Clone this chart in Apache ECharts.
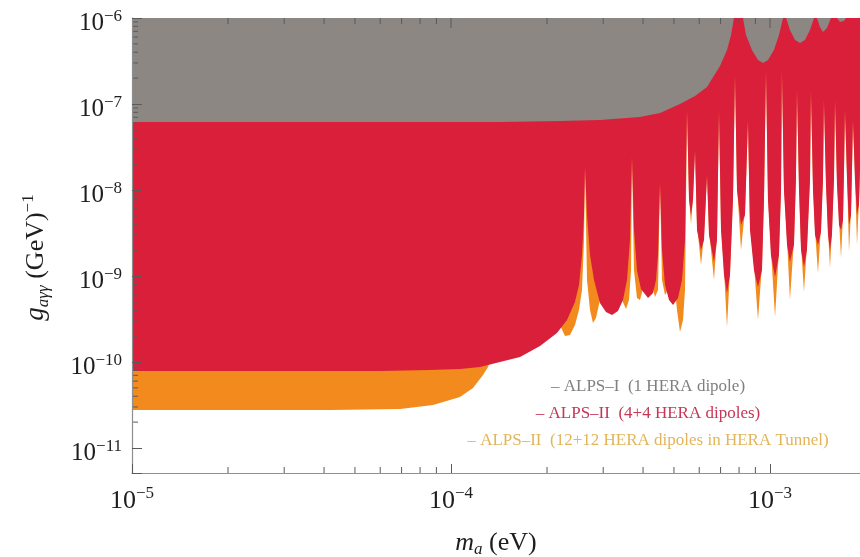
<!DOCTYPE html>
<html>
<head>
<meta charset="utf-8">
<script src="https://cdn.jsdelivr.net/npm/echarts@6/dist/echarts.min.js"></script>
<style>
html,body{margin:0;padding:0;background:#fff;}
#chart{width:860px;height:557px;}
</style>
</head>
<body>
<div id="chart"></div>
<script>
// ---------- axis ranges and ticks ----------
const X_MIN = 1e-5, X_MAX = 1.915e-3;
const Y_MIN = 5.12e-12, Y_MAX = 1e-6;
const minorMantissas = [2, 3, 4, 5, 6, 7, 8, 9];
const xMinorDecades = [1e-5, 1e-4];
const yMinorDecades = [1e-11, 1e-10, 1e-9, 1e-8, 1e-7];
const xTopMajorTicks = [1e-4, 1e-3];

// ---------- legend labels ----------
const legendLabels = [
  '\u2013 ALPS\u2013I  (1 HERA dipole)',
  '\u2013 ALPS\u2013II  (4+4 HERA dipoles)',
  '\u2013 ALPS\u2013II  (12+12 HERA dipoles in HERA Tunnel)'
];

// ---------- sensitivity limits [m_a (eV), g (1/GeV)] ----------
const alps1Limit = [
  [1.00e-5,6.18e-8],[1.424e-4,6.18e-8],[2.196e-4,6.34e-8],[2.931e-4,6.52e-8],[3.913e-4,7.06e-8],
  [4.521e-4,7.85e-8],[5.223e-4,1.00e-7],[5.821e-4,1.24e-7],[6.347e-4,1.58e-7],[6.97e-4,2.77e-7],
  [7.333e-4,4.25e-7],[7.55e-4,6.34e-7],[7.71e-4,1e-6],[8.23e-4,1e-6],[8.41e-4,6.34e-7],
  [8.78e-4,4.25e-7],[9.17e-4,3.25e-7],[9.51e-4,3.00e-7],[9.86e-4,3.25e-7],[1.029e-3,4.25e-7],
  [1.067e-3,6.34e-7],[1.099e-3,1e-6],[1.123e-3,1e-6],[1.155e-3,7.25e-7],[1.198e-3,5.55e-7],
  [1.242e-3,5.12e-7],[1.287e-3,5.55e-7],[1.335e-3,7.25e-7],[1.374e-3,1e-6],[1.404e-3,1e-6],
  [1.434e-3,7.86e-7],[1.466e-3,6.88e-7],[1.509e-3,7.65e-7],[1.553e-3,1e-6],[1.622e-3,1e-6],
  [1.657e-3,8.98e-7],[1.681e-3,8.75e-7],[1.706e-3,9.23e-7],[1.730e-3,1e-6],[1.915e-3,1e-6]
];

const alps2Limit = [
  [1.00e-5,7.86e-11],[5.99e-5,7.86e-11],[8.59e-5,8.07e-11],[1.067e-4,8.29e-11],[1.233e-4,8.75e-11],
  [1.424e-4,1.00e-10],[1.646e-4,1.14e-10],[1.901e-4,1.53e-10],[2.149e-4,2.17e-10],[2.310e-4,3.08e-10],
  [2.447e-4,4.99e-10],[2.519e-4,7.86e-10],[2.574e-4,1.75e-9],[2.612e-4,5.12e-9],[2.631e-4,1.85e-8],
  [2.669e-4,5.12e-9],[2.728e-4,1.75e-9],[2.807e-4,8.98e-10],[2.931e-4,4.85e-10],[3.061e-4,3.81e-10],
  [3.197e-4,3.52e-10],[3.338e-4,3.92e-10],[3.461e-4,5.26e-10],[3.562e-4,8.98e-10],[3.640e-4,2.62e-9],
  [3.693e-4,2.42e-8],[3.747e-4,3.43e-9],[3.829e-4,1.17e-9],[3.941e-4,7.06e-10],[4.146e-4,5.55e-10],
  [4.298e-4,6.34e-10],[4.392e-4,8.98e-10],[4.456e-4,1.75e-9],[4.521e-4,1.21e-8],[4.586e-4,2.01e-9],
  [4.687e-4,7.86e-10],[4.825e-4,5.26e-10],[4.966e-4,4.60e-10],[5.148e-4,5.55e-10],[5.299e-4,8.98e-10],
  [5.415e-4,2.62e-9],[5.494e-4,8.52e-8],[5.574e-4,7.65e-9],[5.655e-4,5.12e-9],[5.737e-4,7.65e-9],
  [5.821e-4,2.92e-8],[5.905e-4,3.43e-9],[6.078e-4,2.01e-9],[6.211e-4,2.62e-9],[6.347e-4,1.49e-8],
  [6.439e-4,3.00e-9],[6.676e-4,1.46e-9],[6.822e-4,2.62e-9],[6.921e-4,8.52e-8],[7.022e-4,3.43e-9],
  [7.176e-4,1.03e-9],[7.333e-4,6.34e-10],[7.493e-4,1.03e-9],[7.656e-4,7.65e-9],[7.768e-4,2.17e-7],
  [7.881e-4,1.00e-8],[8.112e-4,3.92e-9],[8.350e-4,5.12e-9],[8.531e-4,6.52e-8],[8.656e-4,3.43e-9],
  [8.910e-4,1.17e-9],[9.171e-4,7.45e-10],[9.438e-4,1.17e-9],[9.576e-4,7.65e-9],[9.716e-4,2.49e-7],
  [9.856e-4,7.65e-9],[1.007e-3,1.75e-9],[1.037e-3,9.74e-10],[1.067e-3,1.75e-9],[1.083e-3,1.00e-8],
  [1.090e-3,2.49e-7],[1.106e-3,1.00e-8],[1.131e-3,2.29e-9],[1.155e-3,1.46e-9],[1.189e-3,2.29e-9],
  [1.206e-3,1.31e-8],[1.215e-3,1.46e-7],[1.233e-3,1.00e-8],[1.251e-3,2.01e-9],[1.278e-3,1.27e-9],
  [1.306e-3,2.01e-9],[1.335e-3,1.31e-8],[1.344e-3,1.46e-7],[1.364e-3,1.00e-8],[1.384e-3,3.00e-9],
  [1.414e-3,2.29e-9],[1.445e-3,3.25e-9],[1.466e-3,1.31e-8],[1.476e-3,1.11e-7],[1.498e-3,1.14e-8],
  [1.520e-3,3.00e-9],[1.542e-3,2.01e-9],[1.564e-3,3.00e-9],[1.587e-3,1.31e-8],[1.599e-3,1.11e-7],
  [1.622e-3,1.14e-8],[1.646e-3,3.92e-9],[1.670e-3,3.43e-9],[1.694e-3,4.48e-9],[1.706e-3,1.71e-8],
  [1.718e-3,8.52e-8],[1.744e-3,1.31e-8],[1.769e-3,3.92e-9],[1.795e-3,5.12e-9],[1.807e-3,1.71e-8],
  [1.820e-3,6.52e-8],[1.847e-3,1.31e-8],[1.874e-3,5.12e-9],[1.901e-3,6.69e-9],[1.915e-3,1.71e-8]
];

const alps2TunnelLimit = [
  [1.00e-5,2.77e-11],[4.18e-5,2.77e-11],[6.92e-5,2.84e-11],[8.78e-5,3.16e-11],[1.067e-4,3.92e-11],
  [1.172e-4,4.99e-11],[1.260e-4,7.06e-11],[1.306e-4,8.75e-11],[1.354e-4,1.21e-10],[1.424e-4,2.06e-10],
  [1.531e-4,5.26e-10],[1.646e-4,1.53e-9],[1.768e-4,3.43e-9],[1.901e-4,4.48e-9],[2.014e-4,2.01e-9],
  [2.118e-4,5.26e-10],[2.196e-4,2.69e-10],[2.277e-4,2.01e-10],[2.360e-4,2.06e-10],[2.447e-4,2.69e-10],
  [2.519e-4,4.02e-10],[2.574e-4,6.87e-10],[2.612e-4,2.62e-9],[2.631e-4,1.85e-8],[2.669e-4,8.98e-10],
  [2.728e-4,4.02e-10],[2.787e-4,2.84e-10],[2.848e-4,3.25e-10],[2.931e-4,5.26e-10],[3.061e-4,1.17e-9],
  [3.197e-4,1.53e-9],[3.338e-4,8.98e-10],[3.436e-4,5.26e-10],[3.537e-4,4.13e-10],[3.614e-4,5.26e-10],
  [3.667e-4,1.17e-9],[3.693e-4,2.42e-8],[3.747e-4,1.17e-9],[3.829e-4,5.55e-10],[3.913e-4,5.26e-10],
  [4.027e-4,7.86e-10],[4.146e-4,1.03e-9],[4.267e-4,7.86e-10],[4.360e-4,5.70e-10],[4.456e-4,6.87e-10],
  [4.521e-4,1.21e-8],[4.586e-4,8.98e-10],[4.687e-4,6.01e-10],[4.790e-4,6.87e-10],[4.966e-4,1.17e-9],
  [5.111e-4,4.02e-10],[5.223e-4,2.23e-10],[5.338e-4,3.08e-10],[5.415e-4,6.87e-10],[5.494e-4,8.52e-8],
  [5.574e-4,8.75e-9],[5.655e-4,3.92e-9],[5.737e-4,8.75e-9],[5.821e-4,2.92e-8],[5.905e-4,3.92e-9],
  [6.078e-4,1.34e-9],[6.211e-4,3.00e-9],[6.347e-4,1.49e-8],[6.439e-4,3.43e-9],[6.676e-4,8.98e-10],
  [6.822e-4,3.00e-9],[6.921e-4,8.52e-8],[7.022e-4,3.92e-9],[7.176e-4,1.17e-9],[7.333e-4,2.55e-10],
  [7.493e-4,1.17e-9],[7.656e-4,8.75e-9],[7.768e-4,2.17e-7],[7.881e-4,1.14e-8],[8.112e-4,2.01e-9],
  [8.350e-4,5.85e-9],[8.531e-4,6.52e-8],[8.656e-4,3.92e-9],[8.910e-4,1.34e-9],[9.171e-4,3.08e-10],
  [9.438e-4,1.34e-9],[9.576e-4,8.75e-9],[9.716e-4,2.49e-7],[9.856e-4,8.75e-9],[1.007e-3,2.01e-9],
  [1.037e-3,3.34e-10],[1.067e-3,2.01e-9],[1.083e-3,1.14e-8],[1.090e-3,2.49e-7],[1.106e-3,1.14e-8],
  [1.131e-3,2.62e-9],[1.155e-3,5.26e-10],[1.189e-3,2.62e-9],[1.206e-3,1.49e-8],[1.215e-3,1.46e-7],
  [1.233e-3,1.14e-8],[1.251e-3,2.29e-9],[1.278e-3,6.52e-10],[1.306e-3,2.29e-9],[1.335e-3,1.49e-8],
  [1.344e-3,1.46e-7],[1.364e-3,1.14e-8],[1.384e-3,3.43e-9],[1.414e-3,1.08e-9],[1.445e-3,3.71e-9],
  [1.466e-3,1.49e-8],[1.476e-3,1.11e-7],[1.498e-3,1.31e-8],[1.520e-3,3.43e-9],[1.542e-3,1.24e-9],
  [1.564e-3,3.43e-9],[1.587e-3,1.49e-8],[1.599e-3,1.11e-7],[1.622e-3,1.31e-8],[1.646e-3,4.48e-9],
  [1.670e-3,1.62e-9],[1.694e-3,5.12e-9],[1.706e-3,1.71e-8],[1.718e-3,8.52e-8],[1.744e-3,1.49e-8],
  [1.769e-3,1.90e-9],[1.795e-3,5.85e-9],[1.807e-3,1.71e-8],[1.820e-3,6.52e-8],[1.847e-3,1.49e-8],
  [1.874e-3,2.29e-9],[1.901e-3,7.65e-9],[1.915e-3,1.71e-8]
];

// ---------- styling ----------
const FONT = "'Liberation Serif','DejaVu Serif','Times New Roman',serif";
const COLORS = { gray: '#8c8783', red: '#d91f3a', orange: '#f28a1e' };
const LEGEND_COLORS = ['#808080', '#c63657', '#e2b55a'];
const TICK_COLOR = '#5a5a5a';
const TEXT_COLOR = '#1e1e1e';

function powLabel(v) {
  const l = Math.log10(v);
  const e = Math.round(l);
  if (Math.abs(l - e) > 1e-6) return '';
  return '{b|10}{s|' + (e < 0 ? '\u2212' : '') + Math.abs(e) + '}';
}

function flatTicks(decades) {
  const out = [];
  decades.forEach(d => minorMantissas.forEach(m => out.push(+(m * d).toPrecision(3))));
  return out;
}
const xMinorTicks = flatTicks(xMinorDecades);
const yMinorTicks = flatTicks(yMinorDecades);

function tickSeries(data, dir) {
  return {
    type: 'custom',
    coordinateSystem: 'cartesian2d',
    silent: true,
    clip: false,
    z: 5,
    data: data,
    renderItem: function (params, api) {
      const p = api.coord([api.value(0), api.value(1)]);
      const len = api.value(2);
      let shape;
      if (dir === 'up') shape = { x1: p[0], y1: p[1], x2: p[0], y2: p[1] - len };
      else if (dir === 'down') shape = { x1: p[0], y1: p[1], x2: p[0], y2: p[1] + len };
      else shape = { x1: p[0], y1: p[1], x2: p[0] + len, y2: p[1] };
      return { type: 'line', shape: shape, style: { stroke: TICK_COLOR, lineWidth: 1 } };
    }
  };
}

function limitSeries(name, data, color) {
  return {
    name: name,
    type: 'line',
    data: data,
    symbol: 'none',
    showSymbol: false,
    smooth: false,
    silent: true,
    lineStyle: { width: 0, color: color },
    areaStyle: { color: color, opacity: 1, origin: 'end' },
    z: 2
  };
}

const labelRichX = {
  b: { fontFamily: FONT, fontSize: 26, color: TEXT_COLOR, lineHeight: 32 },
  s: { fontFamily: FONT, fontSize: 17, color: TEXT_COLOR, lineHeight: 15, verticalAlign: 'top' }
};
const labelRichY = {
  b: { fontFamily: FONT, fontSize: 25, color: TEXT_COLOR, lineHeight: 30 },
  s: { fontFamily: FONT, fontSize: 17, color: TEXT_COLOR, lineHeight: 13, verticalAlign: 'top' }
};

const chart = echarts.init(document.getElementById('chart'), null, { renderer: 'canvas' });
const option = {
  animation: false,
  backgroundColor: '#ffffff',
  grid: { left: 132, right: 0, top: 18, bottom: 84, containLabel: false, outerBoundsMode: 'none' },
  tooltip: { show: false },
  xAxis: {
    type: 'log', logBase: 10, min: X_MIN, max: X_MAX, z: 10,
    axisLine: { show: true, lineStyle: { color: '#8f8f8f', width: 1.2 } },
    axisTick: { show: true, inside: true, length: 9, lineStyle: { color: TICK_COLOR } },
    minorTick: { show: false },
    splitLine: { show: false },
    axisLabel: { margin: 12, formatter: powLabel, rich: labelRichX, fontFamily: FONT },
    name: '{i|m}{sub|a}{t| (eV)}',
    nameLocation: 'middle',
    nameGap: 55,
    nameTextStyle: {
      rich: {
        i: { fontFamily: FONT, fontStyle: 'italic', fontSize: 26, color: TEXT_COLOR, lineHeight: 30 },
        sub: { fontFamily: FONT, fontStyle: 'italic', fontSize: 17, color: TEXT_COLOR, lineHeight: 14, verticalAlign: 'bottom' },
        t: { fontFamily: FONT, fontSize: 26, color: TEXT_COLOR, lineHeight: 30 }
      }
    }
  },
  yAxis: {
    type: 'log', logBase: 10, min: Y_MIN, max: Y_MAX, z: 10,
    axisLine: { show: true, lineStyle: { color: '#8f8f8f', width: 1.2 } },
    axisTick: { show: true, inside: true, length: 10, lineStyle: { color: TICK_COLOR } },
    minorTick: { show: false },
    splitLine: { show: false },
    axisLabel: { margin: 10, padding: [10, 0, 0, 0], formatter: powLabel, rich: labelRichY, fontFamily: FONT },
    name: '{i|g}{sub|a\u03b3\u03b3}{t| (GeV)}{sup|\u22121}',
    nameLocation: 'middle',
    nameGap: 80,
    nameTextStyle: {
      padding: [0, 24, 0, 0],
      rich: {
        i: { fontFamily: FONT, fontStyle: 'italic', fontSize: 27, color: TEXT_COLOR, lineHeight: 32 },
        sub: { fontFamily: FONT, fontStyle: 'italic', fontSize: 17, color: TEXT_COLOR, lineHeight: 16, verticalAlign: 'bottom' },
        t: { fontFamily: FONT, fontSize: 26, color: TEXT_COLOR, lineHeight: 32 },
        sup: { fontFamily: FONT, fontSize: 17, color: TEXT_COLOR, lineHeight: 14, verticalAlign: 'top' }
      }
    }
  },
  graphic: [
    { type: 'text', x: 648, y: 387, silent: true, style: { text: legendLabels[0], fill: LEGEND_COLORS[0], font: '17px ' + FONT, align: 'center', verticalAlign: 'middle' } },
    { type: 'text', x: 648, y: 414, silent: true, style: { text: legendLabels[1], fill: LEGEND_COLORS[1], font: '17px ' + FONT, align: 'center', verticalAlign: 'middle' } },
    { type: 'text', x: 648, y: 441, silent: true, style: { text: legendLabels[2], fill: LEGEND_COLORS[2], font: '17px ' + FONT, align: 'center', verticalAlign: 'middle' } }
  ],
  series: [
    limitSeries('ALPS-II (12+12 HERA dipoles in HERA Tunnel)', alps2TunnelLimit, COLORS.orange),
    limitSeries('ALPS-II (4+4 HERA dipoles)', alps2Limit, COLORS.red),
    limitSeries('ALPS-I (1 HERA dipole)', alps1Limit, COLORS.gray),
    tickSeries(xMinorTicks.map(v => [v, Y_MIN, 6]), 'up'),
    tickSeries(xMinorTicks.map(v => [v, Y_MAX, 6]).concat(xTopMajorTicks.map(v => [v, Y_MAX, 10])), 'down'),
    tickSeries(yMinorTicks.map(v => [X_MIN, v, 6]), 'right')
  ]
};
chart.setOption(option);
</script>
</body>
</html>
